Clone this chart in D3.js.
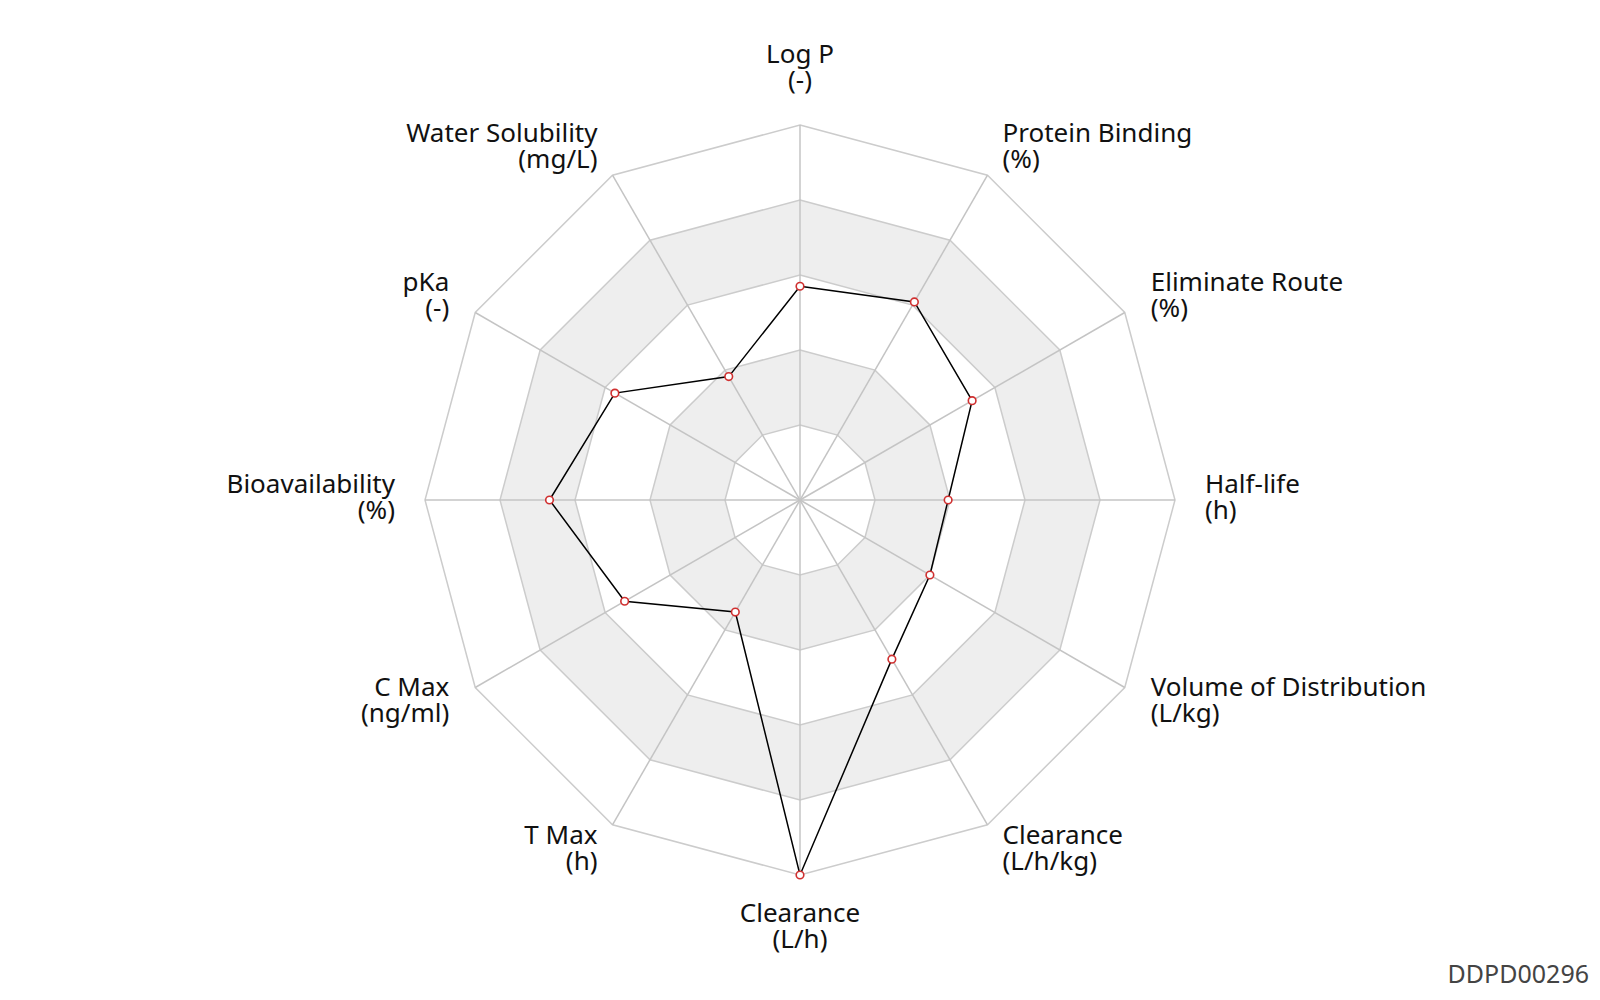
<!DOCTYPE html>
<html>
<head>
<meta charset="utf-8">
<script src="https://cdn.jsdelivr.net/npm/d3@7"></script>
<style>
  html, body { margin: 0; padding: 0; background: #fff; }
  svg { display: block; }
  text { font-family: "Noto Sans", "Open Sans", sans-serif; }
</style>
</head>
<body>
<svg id="chart" width="1600" height="1000"></svg>
<script>
const axisNames = ["Log P", "Protein Binding", "Eliminate Route", "Half-life", "Volume of Distribution", "Clearance", "Clearance", "T Max", "C Max", "Bioavailability", "pKa", "Water Solubility"];
const axisUnits = ["(-)", "(%)", "(%)", "(h)", "(L/kg)", "(L/h/kg)", "(L/h)", "(h)", "(ng/ml)", "(%)", "(-)", "(mg/L)"];
const values = [0.57, 0.61, 0.53, 0.395, 0.40, 0.49, 1.0, 0.345, 0.54, 0.668, 0.57, 0.38];
const levels = [1, 2, 3, 4, 5];
const compoundId = "DDPD00296";

const svg = d3.select("#chart");
const cx = 800, cy = 500, R = 375;
const n = axisNames.length;
const r = d3.scaleLinear().domain([0, 1]).range([0, R]);
const lev = d3.scaleLinear().domain([0, levels.length]).range([0, R]);
const angle = i => (i / n) * 2 * Math.PI; // clockwise from top
const px = (i, rad) => cx + rad * Math.sin(angle(i));
const py = (i, rad) => cy - rad * Math.cos(angle(i));

const g = svg.append("g");

// rings (outer first)
const ringData = levels.slice().reverse();
g.selectAll("polygon.ring").data(ringData).enter().append("polygon")
  .attr("class", "ring")
  .attr("points", l => d3.range(n).map(i => [px(i, lev(l)), py(i, lev(l))].join(",")).join(" "))
  .attr("fill", l => (l % 2 === 0) ? "#eeeeee" : "#ffffff")
  .attr("stroke", "#cccccc")
  .attr("stroke-width", 1.5);

// spokes
g.selectAll("line.spoke").data(d3.range(n)).enter().append("line")
  .attr("x1", cx).attr("y1", cy)
  .attr("x2", i => px(i, R)).attr("y2", i => py(i, R))
  .attr("stroke", "#c4c4c4")
  .attr("stroke-width", 1.5);

// data line
const lineGen = d3.lineRadial()
  .angle((d, i) => angle(i))
  .radius(d => r(d))
  .curve(d3.curveLinearClosed);
g.append("path")
  .datum(values)
  .attr("transform", `translate(${cx},${cy})`)
  .attr("d", lineGen)
  .attr("fill", "none")
  .attr("stroke", "#000")
  .attr("stroke-width", 1.5);

// points
g.selectAll("circle.pt").data(values).enter().append("circle")
  .attr("cx", (d, i) => px(i, r(d)))
  .attr("cy", (d, i) => py(i, r(d)))
  .attr("r", 3.8)
  .attr("fill", "#fff")
  .attr("stroke", "#d03030")
  .attr("stroke-width", 1.6);

// labels
const LR = R * 1.08;
const labels = g.selectAll("text.lbl").data(d3.range(n)).enter().append("text")
  .attr("class", "lbl")
  .attr("font-size", 26)
  .attr("fill", "#111")
  .attr("text-anchor", i => {
    const s = Math.sin(angle(i));
    return Math.abs(s) < 0.01 ? "middle" : (s > 0 ? "start" : "end");
  })
  .each(function(i) {
    const x = px(i, LR), y = py(i, LR);
    const c = Math.cos(angle(i));
    let o1, o2;
    if (c > 0.99) { o1 = -32; o2 = -6; }
    else if (c < -0.99) { o1 = 17; o2 = 43; }
    else { o1 = -7; o2 = 19; }
    const t = d3.select(this);
    t.append("tspan").attr("x", x).attr("y", y + o1).text(axisNames[i]);
    t.append("tspan").attr("x", x).attr("y", y + o2).text(axisUnits[i]);
  });

svg.append("text")
  .attr("x", 1589).attr("y", 983)
  .attr("text-anchor", "end")
  .attr("font-size", 25)
  .attr("fill", "#444")
  .text(compoundId);
</script>
</body>
</html>
